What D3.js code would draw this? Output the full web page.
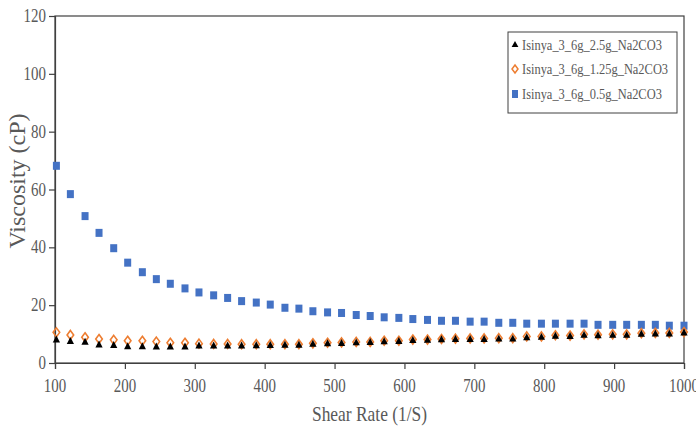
<!DOCTYPE html>
<html><head><meta charset="utf-8">
<script src="https://cdn.jsdelivr.net/npm/d3@7"></script>
<style>body{margin:0;background:#fff}svg{display:block}
text{font-family:"Liberation Serif","Times New Roman",Times,"DejaVu Serif",serif}</style>
</head><body>
<script>
const shearRate = [102,122,143,163,184,204,225,245,265,286,306,327,347,367,388,408,429,449,469,490,510,531,551,571,592,612,633,653,673,694,714,735,755,775,796,816,837,857,877,898,918,939,959,979,1000];
const visc25 = [7.9,7.4,7.1,6.2,6.0,5.6,5.6,5.5,5.5,5.5,5.8,5.8,5.8,5.8,5.9,6.0,6.1,6.1,6.4,6.6,6.7,6.9,7.0,7.3,7.4,7.7,7.8,8.0,8.1,8.1,8.1,8.2,8.2,8.7,8.8,9.2,9.1,9.5,9.4,9.5,9.5,9.9,10.0,10.0,10.3];
const visc125 = [10.6,9.7,8.9,8.3,8.0,7.7,7.7,7.4,7.0,7.0,6.7,6.6,6.6,6.5,6.5,6.5,6.5,6.5,6.8,7.0,7.1,7.3,7.3,7.7,7.7,8.1,8.1,8.3,8.4,8.5,8.5,8.6,8.6,9.2,9.2,9.6,9.5,9.9,9.8,9.9,9.9,10.3,10.4,10.4,10.7];
const visc05 = [68.2,58.4,50.8,45.0,39.7,34.7,31.4,29.0,27.4,25.8,24.4,23.4,22.5,21.4,20.9,20.2,19.1,18.8,17.9,17.5,17.3,16.6,16.25,15.8,15.6,15.2,14.9,14.6,14.6,14.3,14.3,13.9,13.9,13.6,13.6,13.6,13.6,13.6,13.2,13.2,13.2,13.2,13.2,12.9,12.9];
const seriesNames = ["Isinya_3_6g_2.5g_Na2CO3","Isinya_3_6g_1.25g_Na2CO3","Isinya_3_6g_0.5g_Na2CO3"];
const xTicks = [100,200,300,400,500,600,700,800,900,1000];
const yTicks = [0,20,40,60,80,100,120];
const xTitle = "Shear Rate (1/S)";
const yTitle = "Viscosity (cP)";

const W=696,H=433;
const svg=d3.select("body").append("svg").attr("width",W).attr("height",H);
const L=55,R=684,T=16,B=363;
const x=d3.scaleLinear().domain([100,1000]).range([L,R]);
const y=d3.scaleLinear().domain([0,120]).range([B,T]);
const SX=0.83;
const txtCol="#595959", axCol="#404040";

function txt(g,px,py,s,size,anchor,rot,sx){
  return g.append("text").attr("transform",`translate(${px},${py})`+(rot?` rotate(${rot})`:"")+` scale(${sx||SX},1)`)
   .attr("font-size",size).attr("fill",txtCol).attr("text-anchor",anchor).text(s);
}

// frame
svg.append("rect").attr("x",L).attr("y",T).attr("width",R-L).attr("height",B-T).attr("fill","none").attr("stroke",axCol).attr("stroke-width",1.2);

// axes
const xAxis=svg.append("g").attr("transform",`translate(0,${B})`).call(d3.axisBottom(x).tickValues(xTicks).tickSize(6).tickFormat(""));
const yAxis=svg.append("g").attr("transform",`translate(${L},0)`).call(d3.axisLeft(y).tickValues(yTicks).tickSize(6).tickFormat(""));
[xAxis,yAxis].forEach(a=>{a.selectAll("path,line").attr("stroke",axCol).attr("stroke-width",1.2);});

const lab=svg.append("g");
xTicks.forEach(v=>txt(lab,x(v),392,String(v),18,"middle"));
yTicks.forEach(v=>txt(lab,46,y(v)+6,String(v),18,"end"));
txt(lab,(L+R)/2,421,xTitle,21,"middle");
txt(lab,25,181,yTitle,24,"middle",-90,1);

// markers
const tri=d3.symbol().type(d3.symbolTriangle).size(28);
const g=svg.append("g");
g.selectAll(".sq").data(visc05).join("rect")
 .attr("x",(d,i)=>x(shearRate[i])-3.5).attr("y",d=>y(d)-4).attr("width",7).attr("height",8).attr("fill","#4472C4");
g.selectAll(".dm").data(visc125).join("path")
 .attr("transform",(d,i)=>`translate(${x(shearRate[i])},${y(d)})`)
 .attr("d","M0,-4.5L3.3,0L0,4.5L-3.3,0Z").attr("fill","none").attr("stroke","#ED7D31").attr("stroke-width",1.6);
g.selectAll(".tr").data(visc25).join("path")
 .attr("transform",(d,i)=>`translate(${x(shearRate[i])},${y(d)}) scale(0.9,1)`)
 .attr("d",tri).attr("fill","#000");

// legend
const lg=svg.append("g");
lg.append("rect").attr("x",508).attr("y",32).attr("width",169).attr("height",81).attr("fill","#fff").attr("stroke",axCol).attr("stroke-width",1);
const rows=[45,69,94];
lg.append("path").attr("transform",`translate(515,${rows[0]})`).attr("d",d3.symbol().type(d3.symbolTriangle).size(20)).attr("fill","#000");
lg.append("path").attr("transform",`translate(515,${rows[1]})`).attr("d","M0,-4L3,0L0,4L-3,0Z").attr("fill","none").attr("stroke","#ED7D31").attr("stroke-width",1.5);
lg.append("rect").attr("x",512).attr("y",rows[2]-4).attr("width",6).attr("height",8).attr("fill","#4472C4");
seriesNames.forEach((s,i)=>txt(lg,522,rows[i]+5,s,15,"start"));
</script>
</body></html>
